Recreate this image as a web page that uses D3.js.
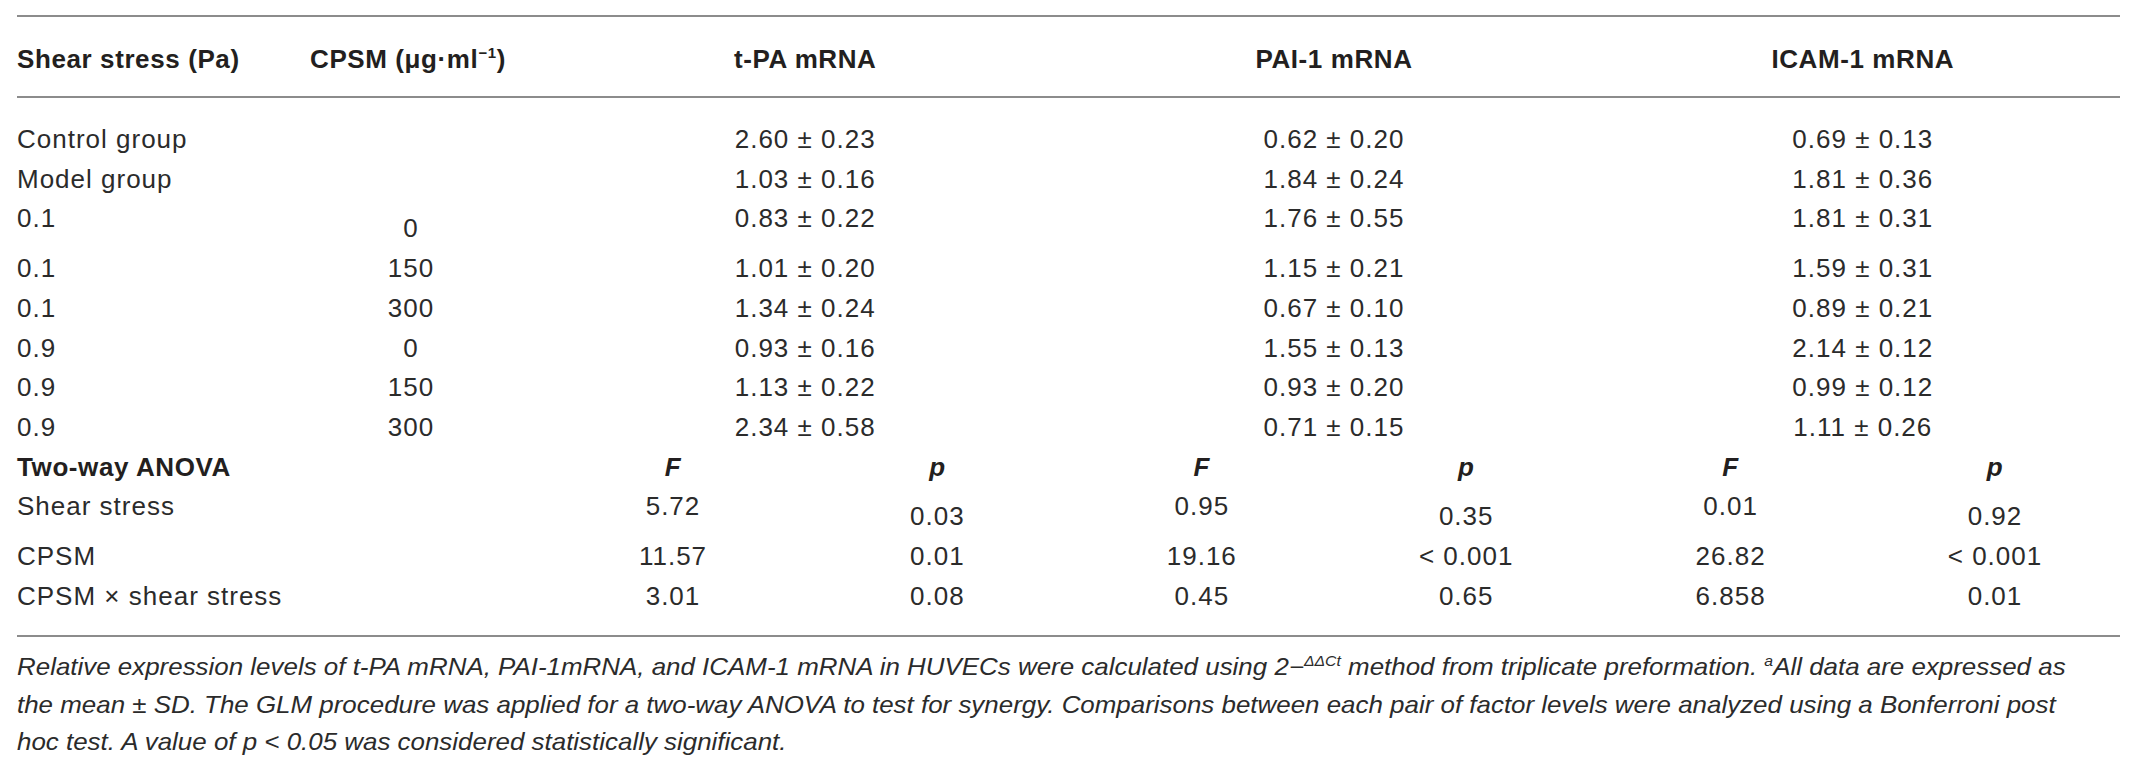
<html>
<style>
    body { margin: 0; background: #fff; }
    text { font-family: "Liberation Sans", Arial, sans-serif; fill: #231f20; }
    .hd { font-weight: bold; font-size: 26px; letter-spacing: 0.6px; }
    .cell { font-size: 26px; letter-spacing: 1px; fill: #2b2b2b; }
    .note { font-style: italic; font-size: 23px; fill: #2b2b2b; }
    .rule { stroke: #8c8c8c; stroke-width: 2; }
</style>
<body>
<script src="https://d3js.org/d3.v7.min.js"></script>
<script>
// table data
const shearLabels = ["Control group", "Model group", "0.1", "0.1", "0.1", "0.9", "0.9", "0.9"]
const cpsmLabels = ["", "", "0", "150", "300", "0", "150", "300"]
const genes = ["t-PA mRNA", "PAI-1 mRNA", "ICAM-1 mRNA"]
const tpaMean = [2.60, 1.03, 0.83, 1.01, 1.34, 0.93, 1.13, 2.34]
const tpaSd = [0.23, 0.16, 0.22, 0.20, 0.24, 0.16, 0.22, 0.58]
const pai1Mean = [0.62, 1.84, 1.76, 1.15, 0.67, 1.55, 0.93, 0.71]
const pai1Sd = [0.20, 0.24, 0.55, 0.21, 0.10, 0.13, 0.20, 0.15]
const icamMean = [0.69, 1.81, 1.81, 1.59, 0.89, 2.14, 0.99, 1.11]
const icamSd = [0.13, 0.36, 0.31, 0.31, 0.21, 0.12, 0.12, 0.26]
const anovaTerms = ["Shear stress", "CPSM", "CPSM \u00d7 shear stress"]
const tpaF = ["5.72", "11.57", "3.01"], tpaP = ["0.03", "0.01", "0.08"]
const pai1F = ["0.95", "19.16", "0.45"], pai1P = ["0.35", "< 0.001", "0.65"]
const icamF = ["0.01", "26.82", "6.858"], icamP = ["0.92", "< 0.001", "0.01"]

const W = 2139, H = 774
const svg = d3.select("body").append("svg")
    .attr("width", W).attr("height", H)
svg.append("rect").attr("width", W).attr("height", H).attr("fill", "#fff")

const left = 17, right = 2120
// six sub-columns (F, p per gene); gene value sits between its pair
const sub = d3.scalePoint().domain(d3.range(6)).range([673, 1995])
const geneX = i => (sub(2 * i) + sub(2 * i + 1)) / 2
const cpsmX = 411

// row baselines; rows 2 and 9 hold an offset second line so they are taller
const rowY = i => 148 + 39.7 * i + (i >= 3 ? 10 : 0) + (i >= 10 ? 10 : 0)

const fmt = d3.format(".2f")
const means = [tpaMean, pai1Mean, icamMean], sds = [tpaSd, pai1Sd, icamSd]
const Fs = [tpaF, pai1F, icamF], Ps = [tpaP, pai1P, icamP]

// rules
svg.selectAll(".rule").data([16, 97, 636]).join("line")
    .attr("class", "rule")
    .attr("x1", left).attr("x2", right)
    .attr("y1", d => d).attr("y2", d => d)

// header
svg.append("text").attr("class", "hd").attr("x", left).attr("y", 68).text("Shear stress (Pa)")
const ch = svg.append("text").attr("class", "hd").attr("x", 310).attr("y", 68)
ch.append("tspan").text("CPSM (\u03bcg\u00b7ml")
ch.append("tspan").attr("font-size", 15).attr("dy", -10).text("\u22121")
ch.append("tspan").attr("dy", 10).text(")")
svg.selectAll(".gene").data(genes).join("text")
    .attr("class", "hd gene")
    .attr("text-anchor", "middle")
    .attr("x", (d, i) => geneX(i)).attr("y", 68)
    .text(d => d)

// group rows
svg.selectAll(".shear").data(shearLabels).join("text")
    .attr("class", "cell shear")
    .attr("x", left).attr("y", (d, i) => rowY(i))
    .text(d => d)
svg.selectAll(".cpsm").data(cpsmLabels).join("text")
    .attr("class", "cell cpsm")
    .attr("text-anchor", "middle")
    .attr("x", cpsmX).attr("y", (d, i) => rowY(i) + (i === 2 ? 10 : 0))
    .text(d => d)
genes.forEach((g, gi) => {
    svg.selectAll(".val" + gi).data(means[gi]).join("text")
        .attr("class", "cell val" + gi)
        .attr("text-anchor", "middle")
        .attr("x", geneX(gi)).attr("y", (d, i) => rowY(i))
        .text((d, i) => `${fmt(d)} \u00b1 ${fmt(sds[gi][i])}`)
})

// two-way ANOVA block
svg.append("text").attr("class", "hd").attr("x", left).attr("y", rowY(8)).text("Two-way ANOVA")
svg.selectAll(".fp").data(d3.range(6)).join("text")
    .attr("class", "hd fp")
    .attr("font-style", "italic")
    .attr("text-anchor", "middle")
    .attr("x", d => sub(d)).attr("y", rowY(8))
    .text(d => d % 2 ? "p" : "F")
svg.selectAll(".term").data(anovaTerms).join("text")
    .attr("class", "cell term")
    .attr("x", left).attr("y", (d, i) => rowY(9 + i))
    .text(d => d)
genes.forEach((g, gi) => {
    svg.selectAll(".f" + gi).data(Fs[gi]).join("text")
        .attr("class", "cell f" + gi)
        .attr("text-anchor", "middle")
        .attr("x", sub(2 * gi)).attr("y", (d, i) => rowY(9 + i))
        .text(d => d)
    svg.selectAll(".p" + gi).data(Ps[gi]).join("text")
        .attr("class", "cell p" + gi)
        .attr("text-anchor", "middle")
        .attr("x", sub(2 * gi + 1)).attr("y", (d, i) => rowY(9 + i) + (i === 0 ? 10 : 0))
        .text(d => d)
})

// footnote, squeezed to the width of the original setting
const notes = [
    [["Relative expression levels of t-PA mRNA, PAI-1mRNA, and ICAM-1 mRNA in HUVECs were calculated using 2\u2212", 0],
     ["\u0394\u0394Ct", 1], [" method from triplicate preformation. ", 0], ["a", 1], ["All data are expressed as", 0]],
    [["the mean \u00b1 SD. The GLM procedure was applied for a two-way ANOVA to test for synergy. Comparisons between each pair of factor levels were analyzed using a Bonferroni post", 0]],
    [["hoc test. A value of p < 0.05 was considered statistically significant.", 0]]
]
const noteY = [675, 713, 750]
const noteG = svg.selectAll(".noteg").data(notes).join("g")
    .attr("class", "noteg")
noteG.each(function (parts, li) {
    const t = d3.select(this).append("text").attr("class", "note").attr("x", 0).attr("y", 0)
    parts.forEach(([s, sup], k) => {
        const sp = t.append("tspan").text(s)
        if (sup) sp.attr("font-size", 14).attr("dy", -9)
        else if (k > 0 && parts[k - 1][1]) sp.attr("dy", 9)
    })
})
const w0 = noteG.select("text").node().getComputedTextLength()
const k = 2049 / w0
noteG.attr("transform", (d, i) => `translate(${left},${noteY[i]}) scale(${k},1)`)
</script>
</body>
</html>
